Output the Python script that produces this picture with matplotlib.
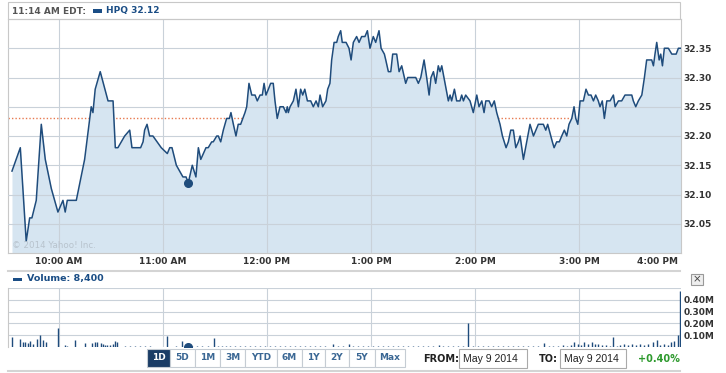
import matplotlib.pyplot as plt
from matplotlib.patches import Rectangle
from matplotlib.lines import Line2D

W, H = 726, 373

# minutes after 9:30 AM, HPQ price
minutes = [2.9, 7.7, 11.1, 13.1, 14.4, 16.9, 19.8, 22.1, 25.6, 29.4, 32.3, 33.6, 34.8, 40.0,
           44.8, 48.6, 49.6, 50.9, 53.8, 58.3, 61.2, 62.5, 64.0, 67.9, 70.8, 72.1, 77.1, 78.5,
           79.4, 80.8, 82.3, 84.2, 89.0, 92.5, 93.9, 95.2, 97.7, 101.5, 102.1, 103.3, 104.6,
           106.9, 109.0, 110.4, 111.8, 113.3, 114.8, 116.1, 118.1, 119.0, 121.0, 121.9, 123.3,
           124.8, 126.7, 128.3, 129.2, 130.6, 132.1, 133.4, 134.8, 137.3, 138.3, 139.6, 141.2,
           143.1, 144.4, 146.0, 147.3, 148.3, 149.4, 150.8, 152.1, 153.6, 154.6, 155.9, 157.5,
           159.4, 161.0, 161.7, 162.3, 163.3, 165.2, 166.7, 168.1, 169.4, 170.6, 171.8, 173.3,
           175.2, 176.7, 178.3, 179.6, 180.6, 182.1, 184.0, 185.0, 186.3, 187.3, 188.7, 190.2,
           191.1, 192.5, 193.4, 195.6, 197.3, 198.5, 199.8, 201.7, 203.1, 204.6, 206.5, 207.9,
           209.4, 211.3, 212.7, 214.6, 215.8, 217.7, 218.5, 220.0, 221.4, 222.5, 223.8, 224.8,
           226.2, 227.7, 230.0, 231.2, 232.5, 233.5, 235.8, 237.3, 238.7, 240.6, 242.1, 243.5,
           244.6, 246.0, 247.3, 248.8, 249.8, 250.8, 252.7, 254.6, 255.6, 256.5, 258.1, 259.4,
           261.3, 262.3, 263.3, 264.6, 267.1, 269.0, 271.0, 272.3, 273.9, 275.2, 276.2, 278.1,
           279.6, 281.1, 282.5, 284.4, 285.8, 287.9, 289.2, 290.6, 292.1, 293.5, 295.0, 296.0,
           297.9, 299.8, 301.7, 303.7, 306.5, 308.1, 309.4, 310.8, 311.9, 313.7, 314.6, 315.6,
           317.1, 318.6, 320.0, 321.5, 322.9, 324.2, 325.8, 327.1, 328.1, 329.3, 330.6, 332.5,
           334.0, 335.4, 336.9, 338.3, 339.6, 341.1, 342.1, 343.4, 344.6, 346.0, 347.9, 349.8,
           350.8, 352.7, 354.6, 356.5, 358.4, 360.4, 361.3, 362.7, 364.2, 366.2, 367.7, 369.0,
           370.9, 371.9, 372.9, 373.8, 374.8, 376.2, 377.1, 378.1, 379.2, 381.5, 383.5, 385.0,
           386.0, 387.3, 388.7]
price = [32.14, 32.18, 32.02, 32.06, 32.06, 32.09, 32.22, 32.16, 32.11, 32.07, 32.09, 32.07, 32.09, 32.09,
         32.16, 32.25, 32.24, 32.28, 32.31, 32.26, 32.26, 32.18, 32.18, 32.20, 32.21, 32.18, 32.18, 32.19,
         32.21, 32.22, 32.20, 32.20, 32.18, 32.17, 32.18, 32.18, 32.15, 32.13, 32.13, 32.13, 32.12,
         32.15, 32.13, 32.18, 32.16, 32.17, 32.18, 32.18, 32.19, 32.19, 32.20, 32.20, 32.19,
         32.21, 32.23, 32.23, 32.24, 32.22, 32.20, 32.22, 32.22, 32.24, 32.25, 32.29, 32.27,
         32.27, 32.26, 32.27, 32.27, 32.29, 32.27, 32.28, 32.29, 32.29, 32.26, 32.23, 32.25,
         32.25, 32.24, 32.25, 32.24, 32.25, 32.26, 32.28, 32.25, 32.28, 32.27, 32.28, 32.26,
         32.26, 32.25, 32.26, 32.25, 32.27, 32.25, 32.26, 32.28, 32.29, 32.33, 32.36, 32.36,
         32.37, 32.38, 32.36, 32.36, 32.35, 32.33, 32.36, 32.37, 32.36, 32.37, 32.37, 32.38,
         32.35, 32.37, 32.36, 32.38, 32.35, 32.34, 32.33, 32.31, 32.31, 32.34, 32.34, 32.34,
         32.31, 32.32, 32.29, 32.30, 32.30, 32.30, 32.30, 32.29, 32.30, 32.33, 32.30, 32.27,
         32.30, 32.31, 32.29, 32.32, 32.31, 32.32, 32.29, 32.26, 32.27, 32.26, 32.28, 32.26,
         32.26, 32.27, 32.26, 32.27, 32.26, 32.24, 32.27, 32.25, 32.26, 32.24, 32.26, 32.26,
         32.25, 32.26, 32.24, 32.22, 32.20, 32.18, 32.19, 32.21, 32.21, 32.18, 32.19, 32.20,
         32.16, 32.19, 32.22, 32.20, 32.22, 32.22, 32.22, 32.21, 32.22, 32.20, 32.19, 32.18,
         32.19, 32.19, 32.20, 32.21, 32.20, 32.22, 32.23, 32.25, 32.23, 32.22, 32.26, 32.26,
         32.28, 32.27, 32.27, 32.26, 32.27, 32.26, 32.25, 32.26, 32.23, 32.26, 32.26, 32.27,
         32.25, 32.26, 32.26, 32.27, 32.27, 32.27, 32.26, 32.25, 32.26, 32.27, 32.30, 32.33,
         32.33, 32.33, 32.32, 32.34, 32.36, 32.33, 32.34, 32.32, 32.35, 32.35, 32.34, 32.34,
         32.34, 32.35, 32.35]

# volume, thousands of shares
vol_min = [3.1, 7.7, 9.2, 10.6, 12.1, 13.4, 14.8, 17.5, 19.2, 20.6, 22.7, 29.4, 33.3, 34.8, 39.4,
           45.2, 49.0, 50.9, 52.1, 54.1, 55.4, 56.7, 57.9, 59.4, 61.2, 62.5, 63.6, 68.1, 71.0,
           73.8, 76.7, 79.6, 82.5, 92.5, 97.7, 101.0, 104.4, 106.7, 109.6, 112.5, 116.0, 119.4,
           121.7, 124.0, 126.3, 128.6, 131.5, 134.4, 137.3, 140.2, 143.0, 146.0, 148.8, 151.7,
           154.6, 157.5, 160.4, 163.3, 166.2, 169.0, 171.9, 174.8, 177.7, 180.6, 183.5, 188.0,
           191.0, 193.8, 197.3, 199.6, 202.5, 205.4, 208.3, 211.1, 214.0, 217.0, 219.8, 222.7,
           225.6, 228.5, 231.3, 234.2, 237.1, 240.0, 242.9, 245.8, 249.2, 251.5, 254.4, 257.3,
           260.2, 263.1, 266.1, 268.8, 271.7, 274.6, 277.5, 280.4, 283.3, 286.2, 289.0, 291.9,
           294.8, 297.7, 300.6, 303.5, 306.3, 310.0, 312.7, 315.0, 317.9, 320.8, 323.0, 325.4,
           327.3, 329.6, 331.2, 333.0, 335.2, 337.3, 339.2, 341.0, 343.3, 345.6, 347.9, 349.8,
           351.9, 353.7, 356.0, 358.3, 360.6, 362.9, 365.2, 367.5, 369.8, 372.9, 374.8, 376.7,
           379.0, 381.3, 383.1, 385.0, 386.9, 388.3]
vol_k = [88, 65, 45, 45, 31, 51, 23, 65, 102, 59, 40, 164, 17, 11, 59,
         31, 31, 40, 40, 31, 23, 17, 17, 17, 23, 51, 40, 8, 6,
         10, 6, 10, 6, 93, 11, 51, 8.4, 8, 6, 8, 6, 79,
         8, 10, 6, 8, 6, 8, 6, 6, 8, 6, 6, 8,
         6, 6, 8, 6, 6, 8, 6, 8, 6, 8, 10, 23,
         8, 10, 23, 8, 10, 6, 8, 6, 8, 6, 8, 6,
         8, 10, 6, 8, 10, 8, 10, 8, 17, 10, 8, 10,
         8, 10, 206, 10, 8, 10, 8, 10, 8, 10, 8, 10,
         8, 10, 8, 10, 8, 31, 10, 8, 10, 17, 10, 17,
         40, 23, 17, 40, 23, 40, 23, 23, 17, 17, 10, 88,
         10, 17, 23, 17, 23, 17, 23, 17, 23, 40, 59, 17,
         23, 17, 40, 51, 102, 475]

hour_ticks = [30, 90, 150, 210, 270, 330]
hour_labels = ['10:00 AM', '11:00 AM', '12:00 PM', '1:00 PM', '2:00 PM', '3:00 PM']
price_ticks = [32.05, 32.10, 32.15, 32.20, 32.25, 32.30, 32.35]
vol_ticks = [100, 200, 300, 400]
vol_labels = ['0.10M', '0.20M', '0.30M', '0.40M']
prev_close = 32.23
now_min, now_price, now_vol = 104.6, 32.12, 8.4
ranges = ['1D', '5D', '1M', '3M', 'YTD', '6M', '1Y', '2Y', '5Y', 'Max']

LINE = '#1f4c7c'
FILL = '#d6e5f1'
GRID = '#c9d1d9'
TXT = '#333333'


def box(x0, y0, x1, y1):
    return [x0 / W, 1 - y1 / H, (x1 - x0) / W, (y1 - y0) / H]


def fx(x):
    return x / W


def fy(y):
    return 1 - y / H


fig = plt.figure(figsize=(W / 100, H / 100), dpi=100)

# ---- price panel
ax = fig.add_axes(box(8, 19, 681, 253))
ax.set_xlim(0.6, 388.8)
ax.set_ylim(32.0, 32.40)
ax.fill_between(minutes, price, 32.0, color=FILL, lw=0, zorder=2)
ax.axhline(prev_close, color='#e87a50', ls=(0, (1, 1.5)), lw=1, zorder=1)
ax.plot(minutes, price, color=LINE, lw=1.1, zorder=3)
ax.plot([now_min], [now_price], 'o', ms=5.5, color=LINE, zorder=4)
ax.set_axisbelow(False)
ax.set_yticks(price_ticks)
ax.set_yticklabels(['%.2f' % v for v in price_ticks])
ax.yaxis.tick_right()
ax.set_xticks(hour_ticks)
ax.set_xticklabels(hour_labels)
ax.grid(True, color=GRID, lw=0.8)
ax.tick_params(length=0, labelsize=6.5, labelcolor=TXT, pad=3)
ax.tick_params(axis='y', pad=2)
for lab in ax.get_xticklabels() + ax.get_yticklabels():
    lab.set_fontweight('bold')
for s in ax.spines.values():
    s.set_color('#c8c8c8')
    s.set_linewidth(0.8)
ax.annotate('4:00 PM', xy=(388.8, 0), xycoords=('data', 'axes fraction'),
            xytext=(-2, -3), textcoords='offset points', ha='right', va='top',
            fontsize=6.5, weight='bold', color=TXT)
ax.text(3, 32.005, '\u00a9 2014 Yahoo! Inc.', fontsize=6.3, color='#b8c3cd', va='bottom')

# header strip
fig.add_artist(Rectangle((fx(8), fy(19)), (680 - 8) / W, 17 / H, transform=fig.transFigure,
                         fill=False, ec='#c8c8c8', lw=0.8))
fig.text(fx(12), fy(11), '11:14 AM EDT:', fontsize=6.5, weight='bold', color='#555555', va='center')
fig.add_artist(Rectangle((fx(93), fy(13)), 9 / W, 3.5 / H, transform=fig.transFigure,
                         fc='#1a4d85', ec='none'))
fig.text(fx(106), fy(11), 'HPQ %.2f' % now_price, fontsize=6.5, weight='bold', color='#1a4d85', va='center')

fig.add_artist(Line2D([fx(8), fx(680)], [fy(271), fy(271)], color='#d4d4d4', lw=1.5))
fig.add_artist(Line2D([fx(8), fx(680)], [fy(371), fy(371)], color='#d4d4d4', lw=1.5))

# ---- volume panel
fig.add_artist(Rectangle((fx(13), fy(281)), 9 / W, 3.5 / H, transform=fig.transFigure,
                         fc='#1a4d85', ec='none'))
fig.text(fx(27), fy(279), 'Volume: 8,400', fontsize=6.8, weight='bold', color='#1a4d85', va='center')
fig.add_artist(Rectangle((fx(691), fy(285)), 12 / W, 11 / H, transform=fig.transFigure,
                         fc='#eeeeee', ec='#999999', lw=0.8))
fig.text(fx(697), fy(279.5), '\u00d7', fontsize=7.5, color='#444444', ha='center', va='center')

av = fig.add_axes(box(8, 288, 681, 347))
av.set_xlim(0.6, 388.8)
av.set_ylim(0, 500)
av.vlines(vol_min, 0, vol_k, color=LINE, lw=1)
av.plot([now_min], [0], 'o', ms=5.5, color=LINE)
av.set_xticks(hour_ticks)
av.set_xticklabels([])
av.set_yticks(vol_ticks + [500])
av.set_yticklabels(vol_labels + [''])
av.yaxis.tick_right()
av.grid(True, color=GRID, lw=0.8)
av.set_axisbelow(True)
av.tick_params(length=0, labelsize=6.5, labelcolor=TXT, pad=2)
for lab in av.get_yticklabels():
    lab.set_fontweight('bold')
for k, s in av.spines.items():
    s.set_visible(k == 'left')
    s.set_color('#c8c8c8')

# ---- range buttons
edges = [147, 170, 195, 220, 245, 277, 302, 325, 349, 375, 405]
for i, name in enumerate(ranges):
    x0, x1 = edges[i], edges[i + 1]
    sel = i == 0
    fig.add_artist(Rectangle((fx(x0), fy(367)), (x1 - x0) / W, 18 / H, transform=fig.transFigure,
                             fc='#1b3d66' if sel else 'white', ec='#c5ccd3', lw=0.8))
    fig.text(fx((x0 + x1) / 2), fy(358), name, fontsize=6.5, weight='bold',
             color='white' if sel else '#3a6794', ha='center', va='center')

fig.text(fx(423), fy(358.5), 'FROM:', fontsize=7, weight='bold', color='#222222', va='center')
fig.add_artist(Rectangle((fx(459), fy(368)), 68 / W, 19 / H, transform=fig.transFigure,
                         fc='white', ec='#aaaaaa', lw=0.8))
fig.text(fx(463), fy(358.5), 'May 9 2014', fontsize=7.6, family='Liberation Sans', color='#222222', va='center')
fig.text(fx(539), fy(358.5), 'TO:', fontsize=7, weight='bold', color='#222222', va='center')
fig.add_artist(Rectangle((fx(560), fy(368)), 66 / W, 19 / H, transform=fig.transFigure,
                         fc='white', ec='#aaaaaa', lw=0.8))
fig.text(fx(564), fy(358.5), 'May 9 2014', fontsize=7.6, family='Liberation Sans', color='#222222', va='center')
fig.text(fx(638), fy(358.5), '+0.40%', fontsize=7, weight='bold', color='#2e9a2e', va='center')

fig.savefig('out.png', dpi=100)
